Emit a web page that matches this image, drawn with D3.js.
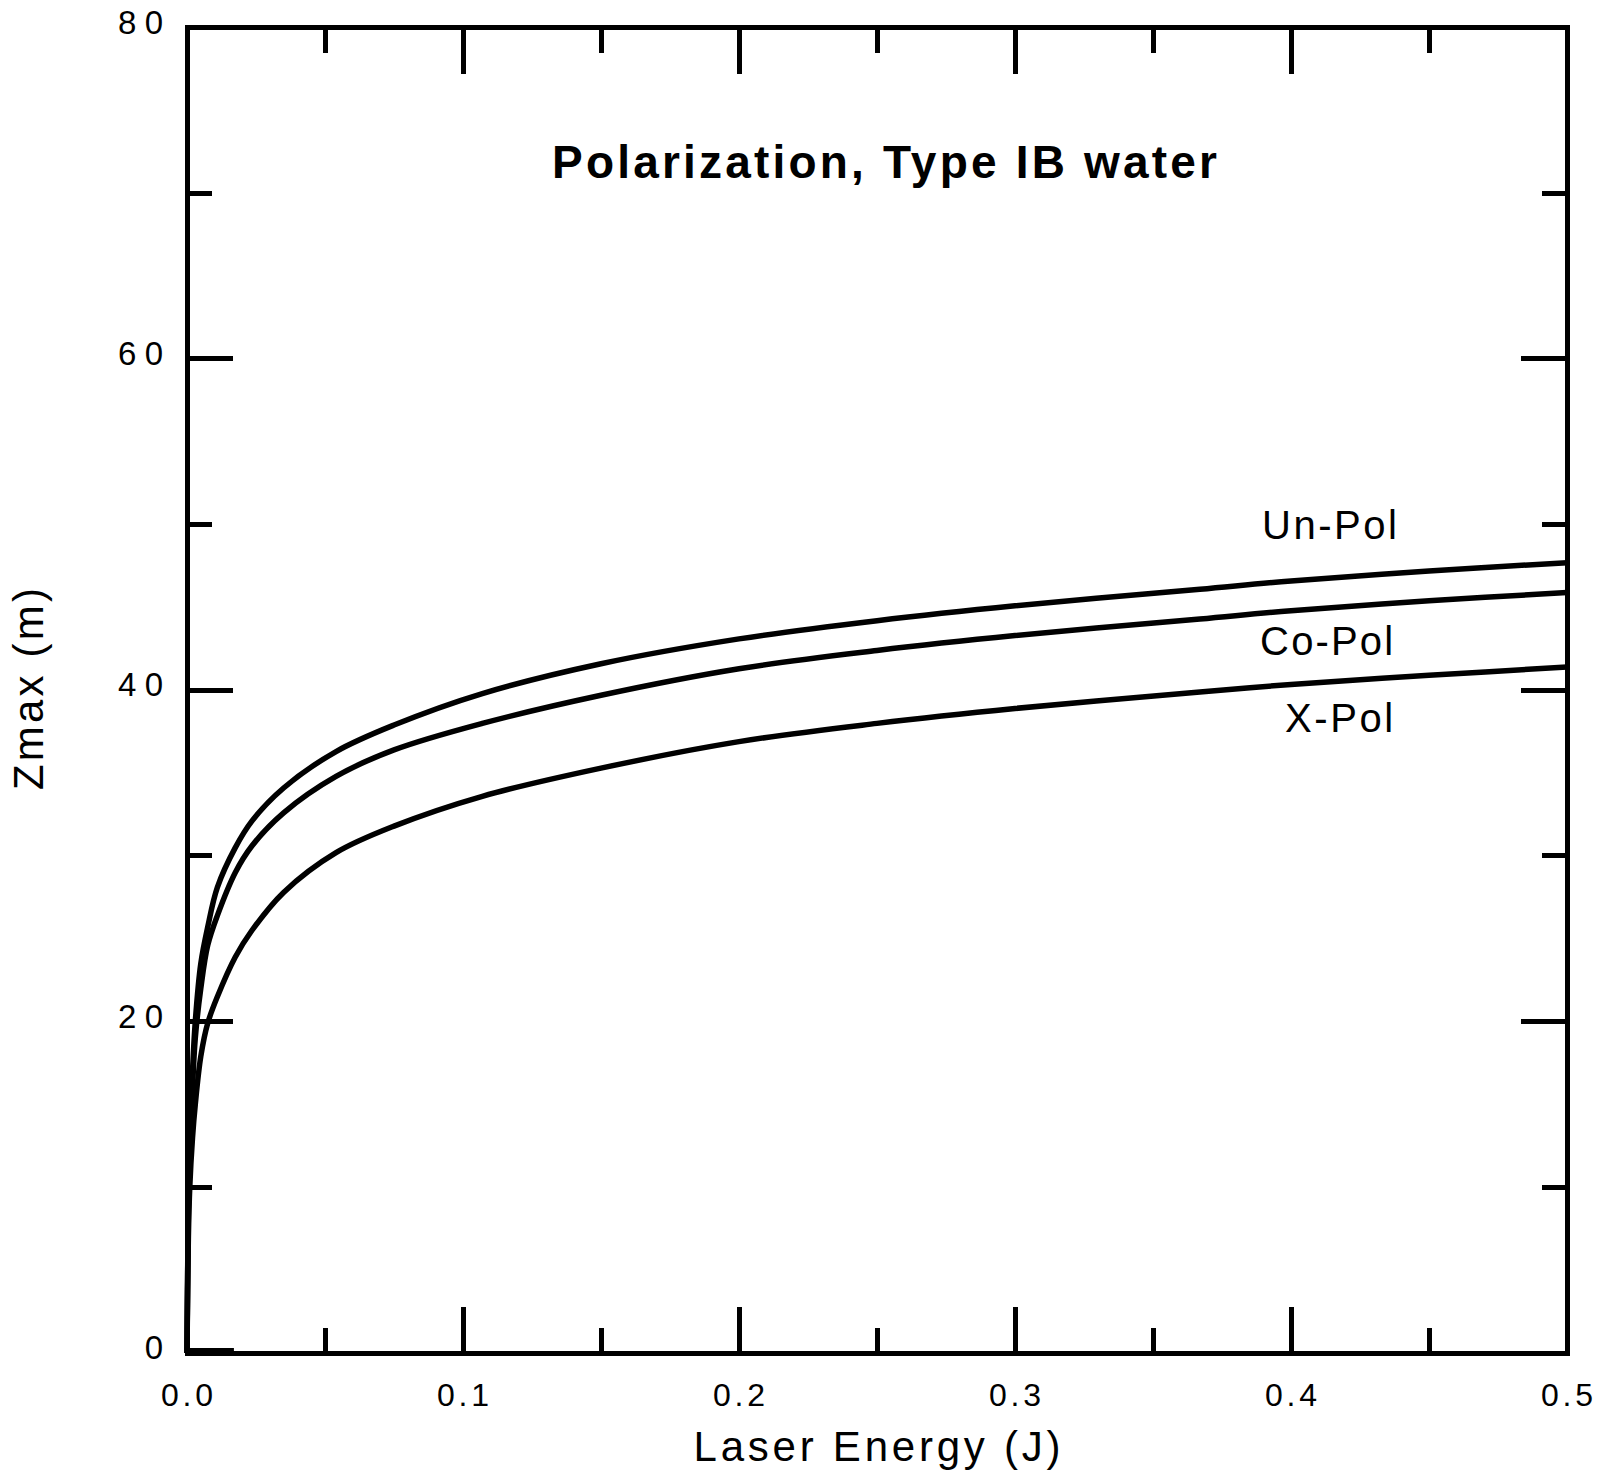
<!DOCTYPE html>
<html>
<head>
<meta charset="utf-8">
<script src="https://cdn.jsdelivr.net/npm/d3@7"></script>
<style>
  html, body { margin: 0; padding: 0; background: #fff; }
  svg { display: block; }
  text { font-family: "Liberation Sans", Arial, sans-serif; fill: #000; }
</style>
</head>
<body>
<div id="chart"></div>
<script>
// ---- data ----
const energy = [0, 0.0005, 0.001, 0.002, 0.003, 0.005, 0.0075, 0.011, 0.0175, 0.0235, 0.035, 0.054, 0.075, 0.107, 0.15, 0.2, 0.25, 0.3, 0.367, 0.4, 0.45, 0.5];
const unPol = [0, 9, 12.5, 17, 20, 23.5, 25.7, 28.1, 30.5, 32.1, 34.1, 36.3, 37.9, 39.8, 41.6, 43.1, 44.2, 45.1, 46.1, 46.6, 47.2, 47.7];
const coPol = [0, 8.5, 12, 16, 19, 22, 24.6, 26.4, 29.0, 30.6, 32.6, 34.8, 36.4, 38.0, 39.7, 41.3, 42.4, 43.3, 44.3, 44.8, 45.4, 45.9];
const xPol  = [0, 7, 10, 13, 15, 17.9, 19.9, 21.5, 23.9, 25.5, 27.8, 30.2, 31.8, 33.6, 35.3, 36.9, 38.0, 38.9, 39.9, 40.35, 40.9, 41.4];
const baseStubE = [0, 0.017];
const baseStubZ = [0, 0];

const seriesNames = ["Un-Pol", "Co-Pol", "X-Pol"];
const labelE = [0.4384, 0.437, 0.437];
const labelZ = [49.1, 42.1, 37.5];

const xMajorTicks = [0, 0.1, 0.2, 0.3, 0.4, 0.5];
const xMinorTicks = [0.05, 0.15, 0.25, 0.35, 0.45];
const xTickLabels = ["0.0", "0.1", "0.2", "0.3", "0.4", "0.5"];
const yMajorTicks = [0, 20, 40, 60, 80];
const yMinorTicks = [10, 30, 50, 70];
const yTickLabels = ["0", "20", "40", "60", "80"];

const titleText = "Polarization, Type IB water";
const xTitle = "Laser Energy (J)";
const yTitle = "Zmax (m)";

// ---- layout ----
const W = 1600, H = 1472;
const mLeft = 187, mRight = 1567, mTop = 27.5, mBottom = 1353;

const svg = d3.select("#chart").append("svg").attr("width", W).attr("height", H);

const x = d3.scaleLinear().domain([0, 0.5]).range([mLeft, mRight]);
const y = d3.scaleLinear().domain([0, 80]).range([mBottom, mTop]);

const majorLen = 46, minorLen = 25, sw = 5;

// ticks (inward, mirrored on all sides)
const tickG = svg.append("g").attr("stroke", "#000").attr("stroke-width", sw).attr("shape-rendering", "crispEdges");
function xt(vals, len) {
  vals.forEach(v => {
    tickG.append("line").attr("x1", x(v)).attr("x2", x(v)).attr("y1", mBottom).attr("y2", mBottom - len);
    tickG.append("line").attr("x1", x(v)).attr("x2", x(v)).attr("y1", mTop).attr("y2", mTop + len);
  });
}
function yt(vals, len) {
  vals.forEach(v => {
    tickG.append("line").attr("y1", y(v)).attr("y2", y(v)).attr("x1", mLeft).attr("x2", mLeft + len);
    tickG.append("line").attr("y1", y(v)).attr("y2", y(v)).attr("x1", mRight).attr("x2", mRight - len);
  });
}
xt(xMajorTicks, majorLen); xt(xMinorTicks, minorLen);
yt(yMajorTicks, majorLen); yt(yMinorTicks, minorLen);

// curves
const line = d3.line().x(d => x(d[0])).y(d => y(d[1])).curve(d3.curveCatmullRom.alpha(0.5));
const allSeries = [unPol, coPol, xPol].map(vals => energy.map((e, i) => [e, vals[i]]));
svg.append("g").selectAll("path").data(allSeries).join("path")
  .attr("d", line)
  .attr("fill", "none").attr("stroke", "#000").attr("stroke-width", 5.5)
  .attr("stroke-linejoin", "round");
svg.append("path")
  .attr("d", d3.line().x(d => x(d[0])).y(d => y(d[1]))(baseStubE.map((e, i) => [e, baseStubZ[i]])))
  .attr("fill", "none").attr("stroke", "#000").attr("stroke-width", 7)
  .attr("transform", "translate(0,-1.5)");

// frame
svg.append("rect").attr("x", mLeft).attr("y", mTop).attr("width", mRight - mLeft).attr("height", mBottom - mTop)
  .attr("fill", "none").attr("stroke", "#000").attr("stroke-width", sw).attr("shape-rendering", "crispEdges");

// tick labels
svg.append("g").selectAll("text").data(xMajorTicks).join("text")
  .attr("x", d => x(d)).attr("y", 1406)
  .attr("text-anchor", "middle").attr("font-size", 32)
  .attr("textLength", 52).attr("lengthAdjust", "spacing")
  .text((d, i) => xTickLabels[i]);

svg.append("g").selectAll("text").data(yMajorTicks).join("text")
  .attr("x", 163).attr("y", d => y(d) + 6)
  .attr("text-anchor", "end").attr("font-size", 33)
  .attr("textLength", (d, i) => yTickLabels[i].length > 1 ? 45 : 19).attr("lengthAdjust", "spacing")
  .text((d, i) => yTickLabels[i]);

// axis titles
svg.append("text").attr("x", (mLeft + mRight) / 2).attr("y", 1461)
  .attr("text-anchor", "middle").attr("font-size", 42)
  .attr("textLength", 367).attr("lengthAdjust", "spacing").text(xTitle);

svg.append("text").attr("transform", "translate(43,689) rotate(-90)")
  .attr("text-anchor", "middle").attr("font-size", 42)
  .attr("textLength", 202).attr("lengthAdjust", "spacing").text(yTitle);

// title
svg.append("text").attr("x", 884.5).attr("y", 178)
  .attr("text-anchor", "middle").attr("font-size", 46).attr("font-weight", "bold")
  .attr("textLength", 665).attr("lengthAdjust", "spacing").text(titleText);

// series labels
const lblLen = [135, 133, 108];
svg.append("g").selectAll("text").data(seriesNames).join("text")
  .attr("x", (d, i) => x(labelE[i])).attr("y", (d, i) => y(labelZ[i]))
  .attr("text-anchor", "end").attr("font-size", 40)
  .attr("textLength", (d, i) => lblLen[i]).attr("lengthAdjust", "spacing")
  .text(d => d);
</script>
</body>
</html>
